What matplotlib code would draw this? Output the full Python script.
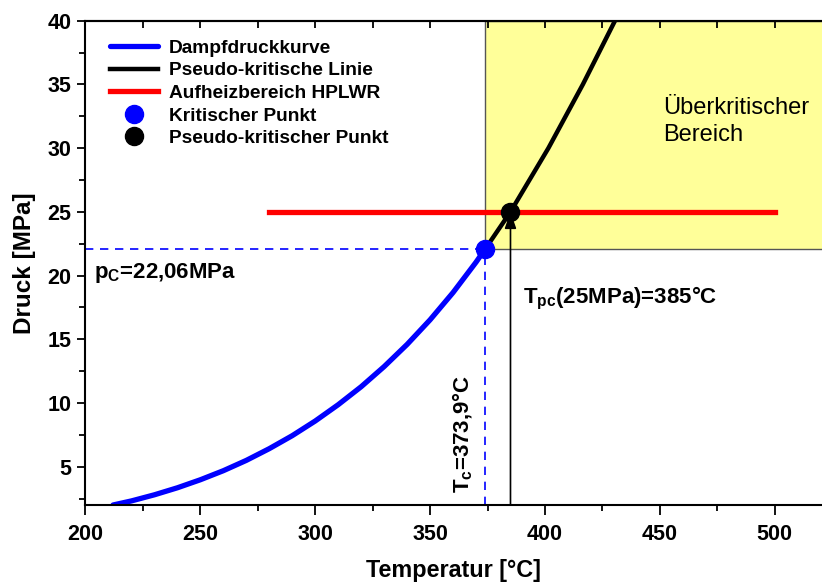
import numpy as np
import matplotlib
matplotlib.use('Agg')
import matplotlib.pyplot as plt
from matplotlib.patches import Rectangle
from matplotlib.ticker import MultipleLocator

plt.rcParams['font.family'] = 'Liberation Sans'
plt.rcParams['mathtext.fontset'] = 'custom'
plt.rcParams['mathtext.rm'] = 'Liberation Sans:bold'
plt.rcParams['mathtext.it'] = 'Liberation Sans:bold'
plt.rcParams['mathtext.bf'] = 'Liberation Sans:bold'

# Dampfdruckkurve (Wasser) bis zum kritischen Punkt
t_sat = [212, 220, 230, 240, 250, 260, 270, 280, 290, 300, 310, 320, 330, 340, 350, 360, 370, 373.9]
p_sat = [2.0, 2.32, 2.80, 3.35, 3.98, 4.69, 5.50, 6.42, 7.44, 8.59, 9.87, 11.28, 12.86, 14.60, 16.53, 18.67, 21.05, 22.06]

# pseudo-kritische Linie oberhalb des kritischen Punkts
t_pc_line = [373.9, 385, 401.5, 416.5, 430.5]
p_pc_line = [22.06, 25, 30, 35, 40]

# Aufheizbereich HPLWR bei 25 MPa
t_heat = [280, 500]
p_heat = [25, 25]

t_crit, p_crit = 373.9, 22.06
t_pc, p_pc = 385, 25

fig = plt.figure(figsize=(8.22, 5.83), dpi=100)
ax = fig.add_axes([0.104, 0.1338, 0.896, 0.8307])
ax.set_xlim(200, 520.6)
ax.set_ylim(2, 40)

# ueberkritischer Bereich
ax.add_patch(Rectangle((t_crit, p_crit), 600 - t_crit, 40 - p_crit,
                       facecolor='#FFFF99', edgecolor='#555555', lw=1, zorder=0))
ax.text(451.5, 32.1, 'Überkritischer\nBereich', fontsize=17, va='center',
        ha='left', linespacing=1.3)

# Hilfslinien zum kritischen Punkt
ax.plot([200, t_crit], [p_crit, p_crit], color='blue', ls=(0, (5, 4)), lw=1.2)
ax.plot([t_crit, t_crit], [2, p_crit], color='blue', ls=(0, (5, 4)), lw=1.2)
ax.annotate('', xy=(t_pc, p_pc), xytext=(t_pc, 2),
            arrowprops=dict(arrowstyle='-|>,head_length=1.0,head_width=0.35',
                            color='black', lw=1.2, shrinkA=0, shrinkB=0))

ax.plot(t_sat, p_sat, color='blue', lw=3.8, solid_capstyle='round', label='Dampfdruckkurve')
ax.plot(t_pc_line, p_pc_line, color='black', lw=3.2, label='Pseudo-kritische Linie')
ax.plot(t_heat, p_heat, color='red', lw=3.8, label='Aufheizbereich HPLWR')
ax.plot(t_crit, p_crit, 'o', color='blue', ms=13, ls='none', label='Kritischer Punkt')
ax.plot(t_pc, p_pc, 'o', color='black', ms=13, ls='none', label='Pseudo-kritischer Punkt')

ax.text(203.5, 20.2, r'p$_\mathregular{C}$=22,06MPa', fontsize=16, fontweight='bold',
        va='center', ha='left')
ax.text(390.5, 18.2, r'T$_\mathregular{pc}$(25MPa)=385°C', fontsize=16, fontweight='bold',
        va='center', ha='left')
ax.text(364.3, 7.6, r'T$_\mathregular{c}$=373,9°C', fontsize=16, fontweight='bold',
        va='center', ha='center', rotation=90)

leg = ax.legend(loc='upper left', bbox_to_anchor=(0.01, 0.997), frameon=False,
                handlelength=2.5, handletextpad=0.55, labelspacing=0.27,
                prop={'weight': 'bold', 'size': 13.8})

ax.set_xlabel('Temperatur [°C]', fontsize=16.8, fontweight='bold', labelpad=10)
ax.set_ylabel('Druck [MPa]', fontsize=17.5, fontweight='bold', labelpad=8)

ax.xaxis.set_major_locator(MultipleLocator(50))
ax.xaxis.set_minor_locator(MultipleLocator(25))
ax.set_yticks([5, 10, 15, 20, 25, 30, 35, 40])
ax.yaxis.set_minor_locator(MultipleLocator(2.5))
ax.tick_params(axis='both', which='both', direction='out', width=1.3)
ax.tick_params(axis='x', which='major', length=7, pad=7)
ax.tick_params(axis='y', which='major', length=6, pad=4)
ax.tick_params(which='minor', length=4)
ax.tick_params(which='major', labelsize=15.5)
for lab in ax.get_xticklabels() + ax.get_yticklabels():
    lab.set_fontweight('bold')

# obere Achse: Ticks nach innen, ohne Beschriftung
top = ax.secondary_xaxis('top')
top.xaxis.set_major_locator(MultipleLocator(25))
top.tick_params(direction='in', length=5, width=1.3, labeltop=False)
top.spines['top'].set_linewidth(1.5)

ax.spines['right'].set_visible(False)
for s in ['left', 'bottom', 'top']:
    ax.spines[s].set_linewidth(1.5)

fig.savefig('out.png', dpi=100)
